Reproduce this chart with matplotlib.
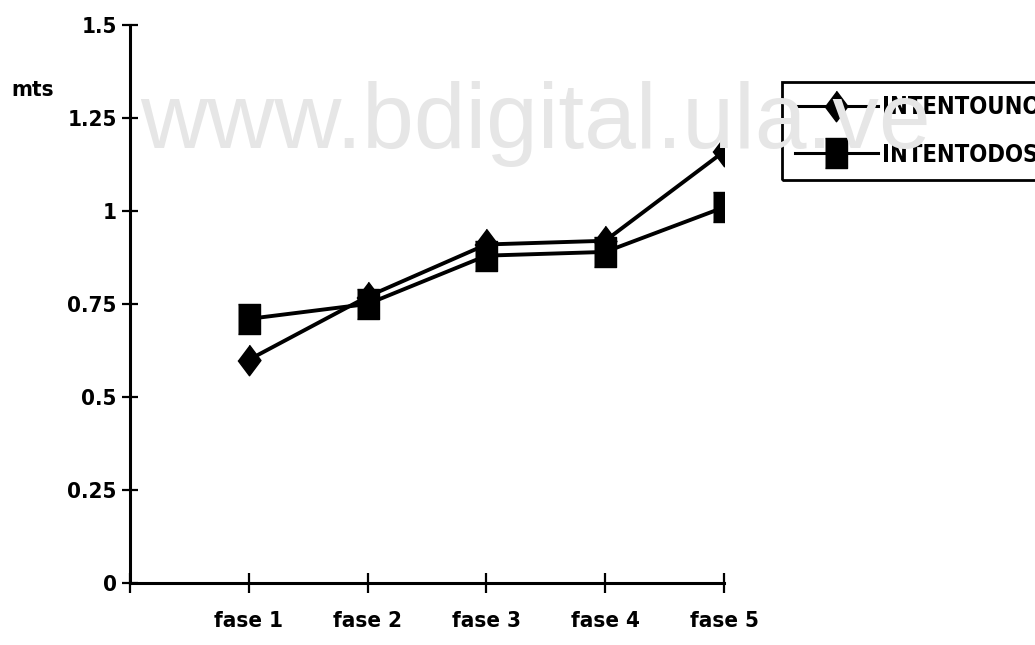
import matplotlib
matplotlib.use('Agg')
import matplotlib.pyplot as plt

# ==== data ====
fases = ['fase 1', 'fase 2', 'fase 3', 'fase 4', 'fase 5']
intento_uno = [0.60, 0.77, 0.91, 0.92, 1.16]
intento_dos = [0.71, 0.75, 0.88, 0.89, 1.01]
y_ticks = [0, 0.25, 0.5, 0.75, 1, 1.25, 1.5]
y_labels = ['0', '0.25', '0.5', '0.75', '1', '1.25', '1.5']

fam = ['DejaVu Sans']
stretch = 'condensed'

diamond = [(0, 1), (0.75, 0), (0, -1), (-0.75, 0)]
rect = [(-0.74, -1), (0.74, -1), (0.74, 1), (-0.74, 1)]

fig = plt.figure(figsize=(10.35, 6.45), dpi=100)
ax = fig.add_axes([130 / 1035, 62 / 645, 594 / 1035, 558 / 645])

# watermark
fig.text(140 / 1035, 1 - 148 / 645, 'www.bdigital.ula.ve', fontsize=67,
         family='Liberation Sans', color='#e6e6e6', ha='left', va='baseline', zorder=0)

x = range(1, len(fases) + 1)
ax.plot(x, intento_uno, color='black', lw=2.8, marker=diamond, ms=22, label='INTENTOUNO')
ax.plot(x, intento_dos, color='black', lw=2.8, marker=rect, ms=22, label='INTENTODOS')

ax.set_xlim(0, 5)
ax.set_ylim(0, 1.5)
ax.set_xticks([0] + list(x))
ax.set_xticklabels([''] + fases, family=fam, fontweight='bold', fontsize=16, fontstretch=stretch)
ax.set_yticks(y_ticks)
ax.set_yticklabels(y_labels, family=fam, fontweight='bold', fontsize=16, fontstretch=stretch)
ax.tick_params(axis='x', direction='inout', length=14, width=1.6, pad=13)
ax.tick_params(axis='y', direction='inout', length=11, width=1.6, pad=4)
ax.spines['top'].set_visible(False)
ax.spines['right'].set_visible(False)
ax.spines['left'].set_linewidth(2.2)
ax.spines['bottom'].set_linewidth(2.2)
ax.patch.set_alpha(0)

fig.text(33 / 1035, 1 - 90 / 645, 'mts', family=fam, fontweight='bold', fontsize=16,
         fontstretch=stretch, ha='center', va='center')

leg = ax.legend(loc='upper left', bbox_to_anchor=(782 / 1035, 1 - 82 / 645),
                bbox_transform=fig.transFigure, borderaxespad=0, fancybox=False,
                frameon=True, facecolor='none', edgecolor='black', borderpad=0.55,
                handlelength=3.5, handletextpad=0.2, labelspacing=1.0,
                prop={'family': fam, 'weight': 'bold', 'size': 17, 'stretch': stretch})
leg.get_frame().set_linewidth(2)
leg.get_frame().set_alpha(None)
for h in leg.legend_handles:
    h.set_linewidth(2.2)

plt.savefig('out.png', dpi=100)
